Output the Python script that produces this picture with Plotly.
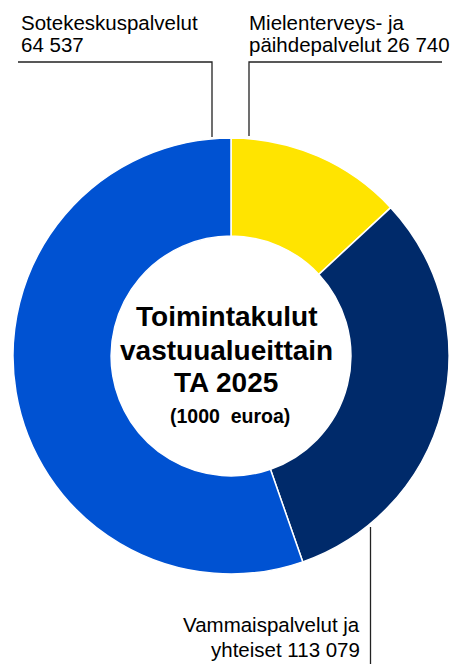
import plotly.graph_objects as go

# data (clockwise from 12 o'clock)
values = [26740, 64537, 113079]
colors = ["#FFE400", "#002A6A", "#0052D2"]

# label texts, two lines each; value appended to second line
label_first = ["Sotekeskuspalvelut", "Mielenterveys- ja", "Vammaispalvelut ja"]
label_second = ["", "päihdepalvelut ", "yhteiset "]
label_values = [64537, 26740, 113079]

title_lines = ["Toimintakulut", "vastuualueittain", "TA 2025"]
subtitle = "(1000\u00a0 euroa)"

W, H = 451, 664


def px(x):
    return x / W


def py(y):
    return 1 - y / H


def fmt(v):
    return f"{v:,}".replace(",", " ")


fig = go.Figure(go.Pie(
    values=values,
    sort=False,
    direction="clockwise",
    rotation=0,
    hole=0.55,
    marker=dict(colors=colors, line=dict(color="white", width=1.5)),
    textinfo="none",
    hoverinfo="value",
    domain=dict(x=[px(13), px(449)], y=[py(574), py(138)]),
))

font = dict(family="Liberation Sans, Arial, sans-serif", size=20.5, color="black")
anns = []

# top-left label
anns.append(dict(x=px(19), y=py(23), text=label_first[0], xanchor="left", yanchor="middle"))
anns.append(dict(x=px(19), y=py(45), text=label_second[0] + fmt(label_values[0]), xanchor="left", yanchor="middle"))
# top-right label
anns.append(dict(x=px(247), y=py(23), text=label_first[1], xanchor="left", yanchor="middle"))
anns.append(dict(x=px(247), y=py(45), text=label_second[1] + fmt(label_values[1]), xanchor="left", yanchor="middle"))
# bottom label
anns.append(dict(x=px(362), y=py(624), text=label_first[2], xanchor="right", yanchor="middle"))
anns.append(dict(x=px(362), y=py(649), text=label_second[2] + fmt(label_values[2]), xanchor="right", yanchor="middle"))

for a in anns:
    a.update(xref="paper", yref="paper", showarrow=False, font=font)

bold = dict(family="Liberation Sans, Arial, sans-serif", size=28, color="black")
for i, t in enumerate(title_lines):
    anns.append(dict(x=px(226), y=py(317 + i * 33), text=f"<b>{t}</b>", xref="paper", yref="paper",
                     showarrow=False, xanchor="center", yanchor="middle", font=bold))
anns.append(dict(x=px(230), y=py(416), text=f"<b>{subtitle}</b>", xref="paper", yref="paper",
                 showarrow=False, xanchor="center", yanchor="middle",
                 font=dict(family="Liberation Sans, Arial, sans-serif", size=19.5, color="black")))

line = dict(color="#222222", width=1.3)
shapes = [
    dict(type="path", path=f"M {px(18)},{py(62)} L {px(212)},{py(62)} L {px(212)},{py(137)}",
         xref="paper", yref="paper", line=line),
    dict(type="path", path=f"M {px(442)},{py(62)} L {px(249)},{py(62)} L {px(249)},{py(136)}",
         xref="paper", yref="paper", line=line),
    dict(type="line", x0=px(370.5), x1=px(370.5), y0=py(527), y1=py(664),
         xref="paper", yref="paper", line=line),
]

fig.update_layout(
    width=W, height=H,
    margin=dict(l=0, r=0, t=0, b=0),
    paper_bgcolor="white",
    plot_bgcolor="white",
    showlegend=False,
    annotations=anns,
    shapes=shapes,
)

# page body has a default margin; drop it so the figure fills the window
fig.write_html("out.html", config={"displayModeBar": False},
               post_script="document.body.style.margin='0';document.body.style.overflow='hidden';")
